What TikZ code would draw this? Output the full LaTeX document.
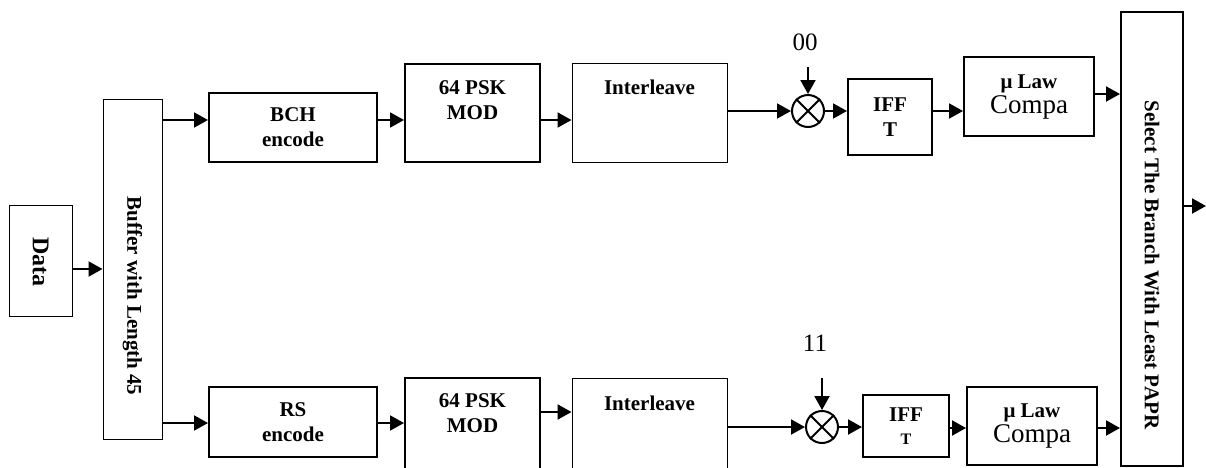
\documentclass[tikz,border=0pt]{standalone}
\usepackage{fontspec}
\setmainfont{Liberation Serif}
\usetikzlibrary{arrows.meta}
\tikzset{
  blk/.style={draw,line width=1pt,inner sep=0pt},
  thinblk/.style={draw,line width=0.5pt,inner sep=0pt},
  lbl/.style={align=center,inner sep=0pt,font=\fontsize{10.5}{12.5}\selectfont\bfseries},
  arr/.style={line width=1pt,-{Triangle[length=7pt,width=7.5pt]}},
  mixer/.style={draw,circle,line width=1pt,minimum size=16pt,inner sep=0pt}
}
\begin{document}
\begin{tikzpicture}[x=0.5pt,y=-0.5pt]
\useasboundingbox (0,0) rectangle (1206,467);
\clip (0,0) rectangle (1206,467);
% input side
\node[thinblk,minimum width=31.5pt,minimum height=55.5pt] (data) at (40.5,260.5) {};
\node[lbl,rotate=-90,font=\fontsize{12}{14}\selectfont\bfseries] (datat) at (40.5,262) {Data};
\node[thinblk,minimum width=29.5pt,minimum height=170pt] (buf) at (132.5,269) {};
\node[lbl,rotate=-90] (buft) at (132.5,296) {Buffer with Length 45};
% upper branch
\node[blk,lbl,minimum width=84pt,minimum height=34.5pt] (bch) at (293,127.5) {BCH\\encode};
\node[blk,minimum width=67.5pt,minimum height=49pt] (mod1) at (472.5,113) {};
\node[lbl] (mod1t) at (472.5,100) {64 PSK\\MOD};
\node[thinblk,minimum width=77.5pt,minimum height=49.5pt] (il1) at (649.5,112.5) {};
\node[lbl] (il1t) at (649.5,87) {Interleave};
\node[mixer] (mix1) at (808,111) {};
\draw[line width=1pt] (mix1.north east) -- (mix1.south west) (mix1.north west) -- (mix1.south east);
\coordinate (in1) at (808,67);
\node[font=\fontsize{12.5}{14}\selectfont] (c1) at (805,42) {00};
\node[blk,lbl,minimum width=42pt,minimum height=38pt] (ifft1) at (890,117) {IFF\\T};
\node[blk,lbl,minimum width=65pt,minimum height=39.5pt] (mu1) at (1029,96.5) {μ Law\\{\fontsize{13.5}{13.5}\mdseries\selectfont Compa}};
% lower branch
\node[blk,lbl,minimum width=84pt,minimum height=35pt] (rs) at (293,422) {RS\\encode};
\node[blk,minimum width=67.5pt,minimum height=61pt] (mod2) at (472.5,439) {};
\node[lbl] (mod2t) at (472.5,413) {64 PSK\\MOD};
\node[thinblk,minimum width=77.5pt,minimum height=61pt] (il2) at (649.5,439) {};
\node[lbl] (il2t) at (649.5,403) {Interleave};
\node[mixer] (mix2) at (822,427) {};
\draw[line width=1pt] (mix2.north east) -- (mix2.south west) (mix2.north west) -- (mix2.south east);
\coordinate (in2) at (822,378);
\node[font=\fontsize{12.5}{14}\selectfont] (c2) at (815,343) {11};
\node[blk,lbl,minimum width=43pt,minimum height=31pt] (ifft2) at (906,426) {IFF\\[-1pt]{\fontsize{8}{9}\selectfont T}};
\node[blk,lbl,minimum width=65pt,minimum height=39pt] (mu2) at (1032,426) {μ Law\\{\fontsize{13.5}{13.5}\mdseries\selectfont Compa}};
% selector
\node[blk,minimum width=31pt,minimum height=227pt] (sel) at (1152,239) {};
\node[lbl,rotate=-90] (selt) at (1152,265) {Select The Branch With Least PAPR};
\coordinate (out) at (1206,206);
% rows
\coordinate (r1) at (0,120);
\coordinate (r2) at (0,94);
\coordinate (r3) at (0,269);
\coordinate (r4) at (0,423);
\coordinate (r5) at (0,412);
\coordinate (r6) at (0,428);
% connectors
\draw[arr] (data.east |- r3) -- (buf.west |- r3);
\draw[arr] (buf.east |- r1) -- (bch.west |- r1);
\draw[arr] (bch.east |- r1) -- (mod1.west |- r1);
\draw[arr] (mod1.east |- r1) -- (il1.west |- r1);
\draw[arr] (il1.east |- mix1) -- (mix1.west);
\draw[arr] (in1) -- (mix1.north);
\draw[arr] (mix1.east) -- (ifft1.west |- mix1);
\draw[arr] (ifft1.east |- mix1) -- (mu1.west |- mix1);
\draw[arr] (mu1.east |- r2) -- (sel.west |- r2);
\draw[arr] (buf.east |- r4) -- (rs.west |- r4);
\draw[arr] (rs.east |- r4) -- (mod2.west |- r4);
\draw[arr] (mod2.east |- r5) -- (il2.west |- r5);
\draw[arr] (il2.east |- mix2) -- (mix2.west);
\draw[arr] (in2) -- (mix2.north);
\draw[arr] (mix2.east) -- (ifft2.west |- mix2);
\draw[arr] (ifft2.east |- r6) -- (mu2.west |- r6);
\draw[arr] (mu2.east |- r6) -- (sel.west |- r6);
\draw[arr] (sel.east |- out) -- (out);
\end{tikzpicture}
\end{document}
